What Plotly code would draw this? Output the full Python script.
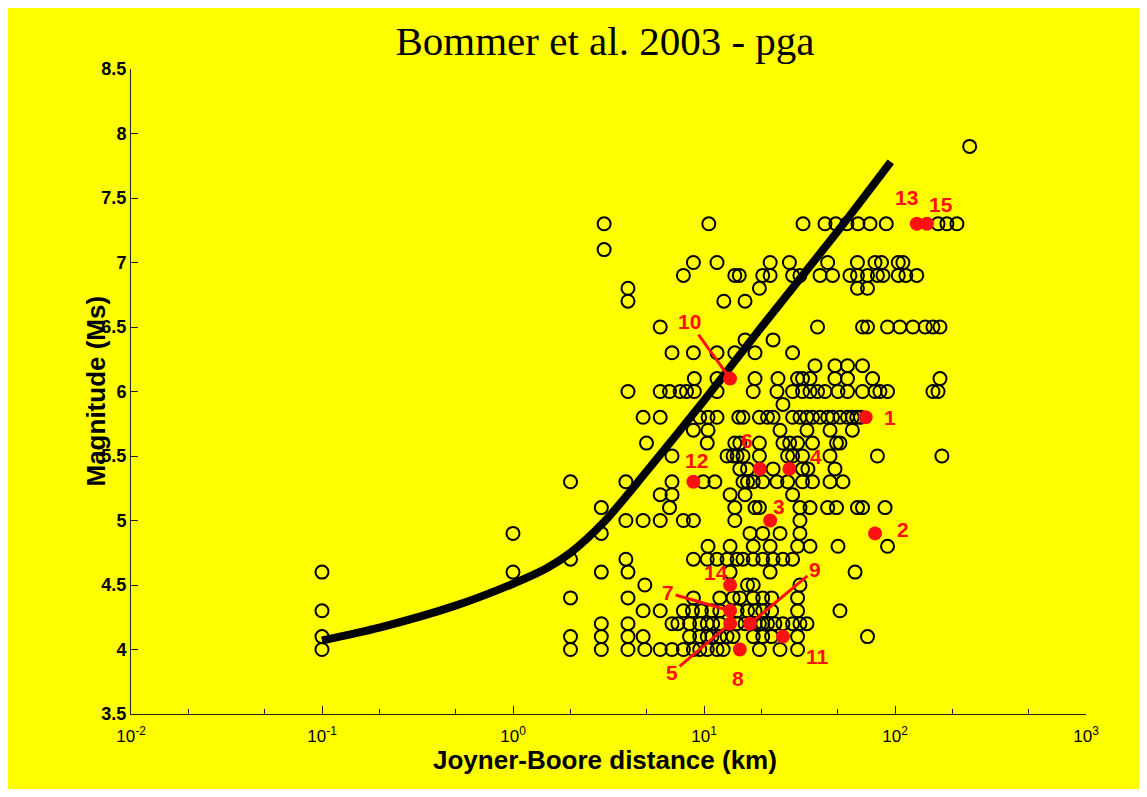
import math
import plotly.graph_objects as go

# ---------------- data ----------------
# Recorded events: Joyner-Boore distance (km) grouped by surface-wave magnitude (Ms)
events_by_mag = {
    7.9: [246],
    7.3: [3, 10.6, 33, 43, 49, 56, 64, 74, 90, 168, 187, 211],
    7.1: [3],
    7.0: [8.8, 11.7, 22.2, 28, 44.4, 63.6, 78.6, 85, 104, 110],
    6.9: [7.8, 14.5, 15.3, 20.3, 22.2, 29.1, 31.8, 40.5, 47.1, 58.1, 63.6, 71.8, 80.9, 86.5, 104, 114, 130],
    6.8: [4, 19.5, 63.6, 71.8],
    6.7: [4, 12.7, 16.4],
    6.5: [5.9, 39.3, 67.6, 71.8, 91.4, 106, 124, 144, 158, 172],
    6.4: [16.4, 23],
    6.3: [6.8, 8.8, 11.7, 14.5, 18.5, 29.1],
    6.2: [38.1, 48.5, 56.4, 67.6],
    6.1: [8.9, 11.7, 18.5, 24.4, 30.9, 32.8, 35.9, 48.5, 56.4, 76.3, 172],
    6.0: [4, 5.9, 6.6, 7.5, 8.1, 8.9, 11.7, 18.1, 24.1, 29.1, 32.8, 35.9, 39.3, 43, 50.3, 56.4, 67.6, 78.6, 83.4, 91.4, 158, 168],
    5.9: [25.9],
    5.8: [4.8, 5.9, 9.5, 10.5, 11.7, 15.2, 16, 19.5, 21.5, 23, 29.1, 31.8, 34.6, 37, 40.5, 44.4, 47.1, 51.5, 56.4, 59.8, 63, 66],
    5.7: [8.8, 10.5, 25, 34.6, 45.7, 59.8],
    5.6: [5, 10.4, 14.5, 15.4, 19.5, 25.9, 28.1, 30.9, 37, 49.4, 51.5],
    5.5: [6.8, 13.2, 14.2, 14.9, 16, 19.5, 27.4, 29.1, 32.8, 45.7, 80.9, 176],
    5.4: [15.4, 16.9, 23, 32.8, 35, 48.5],
    5.3: [2, 3.9, 6.8, 9.9, 11.4, 16, 16.9, 18.1, 20.3, 24.1, 27.4, 32.8, 37, 45.7, 53.4],
    5.2: [5.9, 6.8, 13.7, 16.4, 29.1],
    5.1: [2.9, 6.6, 14.5, 18.5, 19.5, 31.8, 35.9, 44.4, 49.4, 63.6, 67.6, 88.7],
    5.0: [3.9, 4.8, 5.9, 7.8, 8.8, 14.5, 31.8],
    4.9: [1, 2.9, 17.4, 20.3, 25, 31.8],
    4.8: [10.5, 13.7, 18.1, 22.2, 30.9, 35.9, 50.3, 91.4],
    4.7: [2, 3.9, 8.8, 10.4, 11.7, 13.2, 14.9, 16, 18.1, 20.3, 23, 25.9, 29.1],
    4.6: [0.1, 1, 2.9, 4, 13.7, 22.2, 61.8],
    4.5: [4.9, 16.9, 18.1, 31.8],
    4.4: [2, 4, 8.8, 12.1, 14.2, 15.4, 18.1, 20.3, 22.6, 30.9],
    4.3: [0.1, 4.8, 5.9, 7.8, 8.7, 9.7, 11, 12.1, 14.9, 16.9, 18.5, 20.3, 22.6, 30.9, 51.5],
    4.2: [2.9, 4, 6.8, 7.3, 8.4, 9.5, 10.4, 11.1, 12.1, 14.9, 16.4, 18.5, 19.5, 20.3, 21.5, 23.5, 25.9, 29.1, 31.8, 34.6],
    4.1: [0.1, 2, 2.9, 4, 4.8, 8.4, 9.5, 10.4, 11, 12.1, 13.2, 14.2, 18.1, 20.3, 22.6, 30.9, 71.8],
    4.0: [0.1, 2, 2.9, 4, 4.9, 5.9, 6.8, 7.8, 8.8, 9.5, 10.4, 11.7, 12.6, 19.5, 25, 30.9],
}

# Highlighted (numbered) records
hl_labels = ["1", "2", "3", "4", "5", "6", "7", "8", "9", "10", "11", "12", "13", "14", "15"]
hl_dist = [70.2, 78.6, 22.2, 28.0, 13.7, 19.6, 13.7, 15.4, 17.4, 13.7, 25.9, 8.8, 130, 13.7, 147]
hl_mag = [5.8, 4.9, 5.0, 5.4, 4.2, 5.4, 4.3, 4.0, 4.2, 6.1, 4.1, 5.3, 7.3, 4.5, 7.3]

# Limit curve
curve_dist = [0.1, 0.2, 0.5, 1, 1.5, 2, 3, 5, 10, 20, 50, 95]
curve_mag = [4.07, 4.17, 4.34, 4.51, 4.63, 4.75, 4.99, 5.38, 5.93, 6.50, 7.24, 7.78]

x_tickvals = [0.01, 0.1, 1, 10, 100, 1000]
x_ticktext = ["10<sup>-2</sup>", "10<sup>-1</sup>", "10<sup>0</sup>", "10<sup>1</sup>", "10<sup>2</sup>", "10<sup>3</sup>"]
y_tickvals = [3.5, 4, 4.5, 5, 5.5, 6, 6.5, 7, 7.5, 8, 8.5]
y_ticktext = ["3.5", "4", "4.5", "5", "5.5", "6", "6.5", "7", "7.5", "8", "8.5"]

# label placement (pixel offsets): (dx, dy, leader line?)
label_pos = {
    "1": (24, 0, False), "2": (28, 4, False), "3": (9, 14, False), "4": (27, 12, False),
    "6": (-13, 28, False), "8": (-2, -29, False), "11": (35, -20, False), "12": (3, 21, False),
    "13": (-10, 26, False), "14": (-14, 13, False), "15": (14, 19, False),
    "10": (-41, -57, True), "7": (-62, -18, True), "5": (-58, 49, True), "9": (65, -54, True),
}

# ---------------- figure ----------------
YELLOW = "#ffff00"
RED = "#ff1010"
LABEL_FONT = dict(family="Liberation Sans, Arial", size=21, color=RED, weight="bold")

ev_x, ev_y = [], []
for m, ds in events_by_mag.items():
    for d in ds:
        ev_x.append(d)
        ev_y.append(m)

fig = go.Figure()
fig.add_trace(go.Scatter(
    x=ev_x, y=ev_y, mode="markers",
    marker=dict(symbol="circle-open", size=13, color="black", line=dict(width=2, color="black")),
    showlegend=False, hoverinfo="x+y"))
fig.add_trace(go.Scatter(
    x=curve_dist, y=curve_mag, mode="lines",
    line=dict(color="black", width=8, shape="spline", smoothing=0.8),
    showlegend=False))
fig.add_trace(go.Scatter(
    x=hl_dist, y=hl_mag, mode="markers",
    marker=dict(symbol="circle", size=14, color=RED),
    showlegend=False, text=hl_labels))

for lab, d, m in zip(hl_labels, hl_dist, hl_mag):
    dx, dy, line = label_pos[lab]
    if line:
        fig.add_annotation(x=math.log10(d), y=m, xref="x", yref="y", text=lab,
                           showarrow=True, arrowhead=0, arrowwidth=3, arrowcolor=RED,
                           ax=dx, ay=dy, standoff=0, font=LABEL_FONT)
    else:
        fig.add_annotation(x=math.log10(d), y=m, xref="x", yref="y", text=lab,
                           showarrow=False, xshift=dx, yshift=dy, font=LABEL_FONT)

# page has an 8px body margin: figure origin sits at (8, 8)
OFF = 8
W, H = 1135, 781
L, R, T, B = 131 - OFF, 1086 - OFF, 69 - OFF, 714 - OFF
pw, ph = R - L, B - T

# axis titles placed as annotations (page pixel positions)
fig.add_annotation(text="<b>Joyner-Boore distance (km)</b>", xref="paper", yref="paper",
                   x=(605 - OFF - L) / pw, y=(B - (760 - OFF)) / ph,
                   xanchor="center", yanchor="middle", showarrow=False,
                   font=dict(family="Liberation Sans, Arial", size=26, color="black"))
fig.add_annotation(text="<b>Magnitude (Ms)</b>", xref="paper", yref="paper",
                   x=(95 - OFF - L) / pw, y=0.5, textangle=-90,
                   xanchor="center", yanchor="middle", showarrow=False,
                   font=dict(family="Liberation Sans, Arial", size=26, color="black"))

fig.update_layout(
    width=W, height=H,
    margin=dict(l=L, r=W - R, t=T, b=H - B),
    paper_bgcolor=YELLOW, plot_bgcolor=YELLOW,
    title=dict(text="Bommer et al. 2003 - pga", x=(605 - OFF - L) / pw, xref="paper",
               xanchor="center", y=1 - (41 - OFF) / H, yref="container", yanchor="middle",
               font=dict(family="Liberation Serif, Times New Roman", size=41, color="black")),
    font=dict(family="Liberation Sans, Arial", color="black"),
)
fig.update_xaxes(
    type="log", range=[-2, 3], tickvals=x_tickvals, ticktext=x_ticktext,
    ticks="inside", ticklen=8, tickwidth=1, tickcolor="#222", ticklabelstandoff=7,
    minor=dict(ticks="inside", ticklen=5, tickwidth=1, tickcolor="#222", showgrid=False),
    showline=True, linecolor="#222", linewidth=1, mirror=False,
    showgrid=False, zeroline=False,
    tickfont=dict(family="Liberation Sans, Arial", size=17, color="black"),
)
fig.update_yaxes(
    range=[3.5, 8.5], tickvals=y_tickvals, ticktext=y_ticktext,
    ticks="inside", ticklen=7, tickwidth=1, tickcolor="#222",
    showline=True, linecolor="#222", linewidth=1, mirror=False,
    showgrid=False, zeroline=False,
    tickfont=dict(family="Liberation Sans, Arial", size=18, color="black", weight="bold"),
)

fig.write_html("out.html")
